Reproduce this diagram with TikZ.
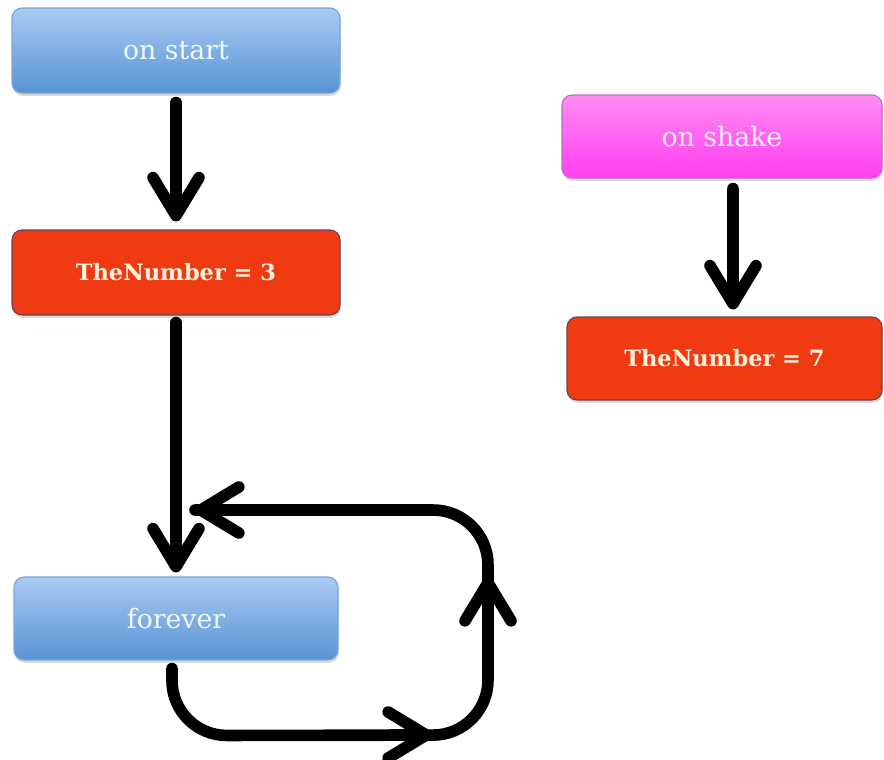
\documentclass[tikz,border=0pt]{standalone}
\usepackage{fontspec}
\setmainfont{DejaVu Serif}
\usetikzlibrary{arrows.meta,shadows}
\definecolor{blueTop}{HTML}{A9CBF3}
\definecolor{blueBot}{HTML}{5893D4}
\definecolor{blueEdge}{HTML}{7AA6DA}
\definecolor{blueText}{HTML}{EEF8FF}
\definecolor{setRed}{HTML}{F03A12}
\definecolor{redEdge}{HTML}{6A3F5E}
\definecolor{redText}{HTML}{FFF2DC}
\definecolor{pinkTop}{HTML}{FF8CF3}
\definecolor{pinkBot}{HTML}{FF3EF0}
\definecolor{pinkEdge}{HTML}{B472C4}
\definecolor{pinkText}{HTML}{FDEBFF}
\begin{document}
\begin{tikzpicture}[x=0.025cm,y=-0.025cm,
  block/.style={rounded corners=10*0.025cm, inner sep=0pt, line width=0.8pt,
    drop shadow={shadow xshift=0.5pt, shadow yshift=-2pt, opacity=0.3}},
  eventbox/.style={block, draw=blueEdge, top color=blueTop, bottom color=blueBot,
    text=blueText, font=\fontsize{19}{22}\selectfont},
  shakebox/.style={block, draw=pinkEdge, top color=pinkTop, bottom color=pinkBot,
    text=pinkText, font=\fontsize{19}{22}\selectfont},
  setbox/.style={block, draw=redEdge, fill=setRed, text=redText,
    font=\bfseries\fontsize{16}{19}\selectfont},
  arr/.style={line width=0.29cm, line cap=round, line join=round,
    -{Straight Barb[length=0.95cm, width=1.15cm, line cap=round, line join=round]}},
  loopline/.style={line width=0.29cm, line cap=round, rounded corners=55*0.025cm}]

% page frame
\useasboundingbox (0,0) rectangle (884,759);

% blocks
\node[eventbox, minimum width=328*0.025cm, minimum height=85*0.025cm] (start) at (176,50.5) {on start};
\node[setbox, minimum width=328*0.025cm, minimum height=85*0.025cm] (set3) at (176,272.5) {TheNumber = 3};
\node[shakebox, minimum width=320*0.025cm, minimum height=83*0.025cm] (shake) at (722,136.5) {on shake};
\node[setbox, minimum width=315*0.025cm, minimum height=83*0.025cm] (set7) at (724.5,358.5) {TheNumber = 7};
\node[eventbox, minimum width=324*0.025cm, minimum height=83*0.025cm] (forever) at (176,618.5) {forever};

% straight connectors
\draw[arr, shorten <=9*0.025cm, shorten >=8*0.025cm] (start.south) -- (set3.north);
\draw[arr, shorten <=10*0.025cm, shorten >=7*0.025cm]
  ([xshift=11*0.025cm]shake.south) -- ([xshift=8.5*0.025cm]set7.north);
\draw[arr, shorten <=7*0.025cm, shorten >=4*0.025cm] (set3.south) -- (forever.north);

% forever loop
\coordinate (loopEnd) at (195,510);
\coordinate (tipBottom) at (432,735);
\coordinate (tipRight) at (488,577);
\draw[loopline] ([xshift=-4*0.025cm, yshift=-8*0.025cm]forever.south)
  -- ++(0,67) -- (488,735) -- (488,510) -- (loopEnd);
\draw[arr] ([xshift=-40*0.025cm]tipBottom) -- (tipBottom);
\draw[arr] ([yshift=-40*0.025cm]tipRight) -- (tipRight);
\draw[arr] ([xshift=40*0.025cm]loopEnd) -- (loopEnd);
\end{tikzpicture}
\end{document}
